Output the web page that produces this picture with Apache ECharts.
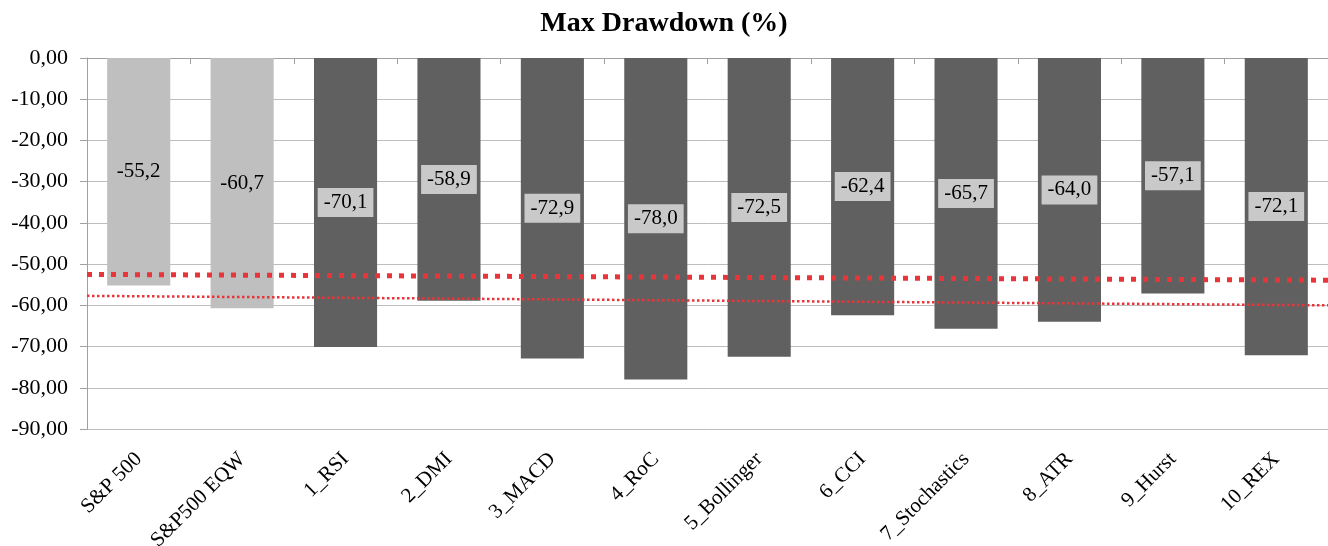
<!DOCTYPE html>
<html>
<head>
<meta charset="utf-8">
<script src="https://cdn.jsdelivr.net/npm/echarts@6/dist/echarts.min.js"></script>
<style>html,body{margin:0;padding:0;background:#fff}#c{width:1328px;height:546px}</style>
</head>
<body>
<div id="c"></div>
<script>
const categories = ['S&P 500','S&P500 EQW','1_RSI','2_DMI','3_MACD','4_RoC','5_Bollinger','6_CCI','7_Stochastics','8_ATR','9_Hurst','10_REX'];
const drawdown = [-55.2,-60.7,-70.1,-58.9,-72.9,-78.0,-72.5,-62.4,-65.7,-64.0,-57.1,-72.1];
const benchmarkCount = 2;
const trendThick = [[0,-52.5],[12,-53.9]];
const trendThin = [[0,-57.7],[12,-60.0]];
const yTicks = {min:-90, max:0, step:10};

const serif = 'Liberation Serif';
const fmt = v => v.toFixed(1).replace('.', ',');
const chart = echarts.init(document.getElementById('c'));
chart.setOption({
  animation:false,
  backgroundColor:'#fff',
  title:{text:'Max Drawdown (%)', left:'center', top:5,
    textStyle:{fontFamily:serif, fontWeight:'bold', fontSize:28, color:'#000'}},
  grid:{left:87, right:0, top:58, bottom:117, containLabel:false, outerBoundsMode:'none'},
  xAxis:[
    {type:'category', data:categories, position:'bottom',
     axisLine:{show:false}, axisTick:{show:false},
     axisLabel:{rotate:45, fontFamily:serif, fontSize:21, color:'#000', margin:27, interval:0}},
    {type:'category', data:categories, position:'top',
     axisLine:{show:true, lineStyle:{color:'#a0a0a0', width:1}},
     axisTick:{show:true, inside:true, length:6, lineStyle:{color:'#a0a0a0'}},
     axisLabel:{show:false}},
    {type:'value', min:0, max:12, show:false}
  ],
  yAxis:{type:'value', min:yTicks.min, max:yTicks.max, interval:yTicks.step,
    axisLine:{show:true, lineStyle:{color:'#a0a0a0'}},
    axisTick:{show:true, length:7, lineStyle:{color:'#a0a0a0'}},
    splitLine:{lineStyle:{color:'#bdbdbd', width:1}},
    axisLabel:{fontFamily:serif, fontSize:22, color:'#000', margin:19,
      formatter:v => v.toFixed(2).replace('.', ',')}},
  series:[
    {type:'bar', xAxisIndex:0, barCategoryGap:'39%',
     data:drawdown.map((v,i)=>({value:v,
       itemStyle:{color: i<benchmarkCount ? '#bfbfbf' : '#606060'},
       label:{backgroundColor: i<benchmarkCount ? 'transparent' : '#c9c9c9'}})),
     label:{show:true, position:'inside', formatter:p=>fmt(p.value),
       fontFamily:serif, fontSize:21, color:'#000', padding:[5,6,3,6]},
     z:2},
    {type:'line', xAxisIndex:2, data:trendThick, symbol:'none', silent:true,
     lineStyle:{color:'#e8353a', width:5, type:[5,7], cap:'butt'}, z:5},
    {type:'line', xAxisIndex:2, data:trendThin, symbol:'none', silent:true,
     lineStyle:{color:'#e8353a', width:2.5, type:[2.5,2.5], cap:'butt'}, z:5}
  ]
});
</script>
</body>
</html>
